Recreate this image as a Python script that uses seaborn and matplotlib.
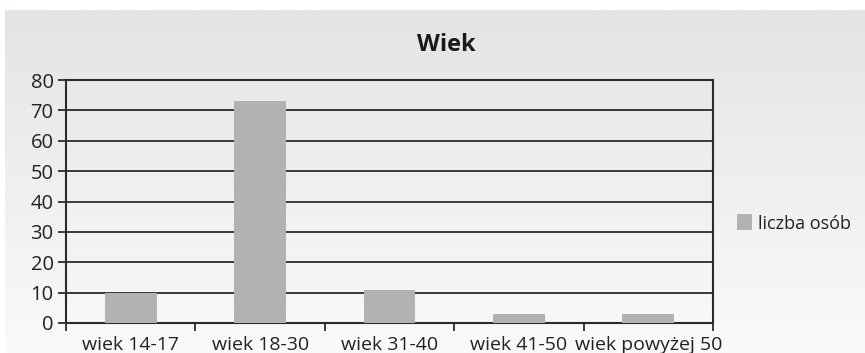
import numpy as np
import matplotlib
matplotlib.use("Agg")
import matplotlib.pyplot as plt
import seaborn as sns
import pandas as pd

categories = ["wiek 14-17", "wiek 18-30", "wiek 31-40", "wiek 41-50", "wiek powyżej 50"]
counts = [10, 73, 11, 3, 3]
series_name = "liczba osób"
title = "Wiek"

sns.set_theme(style="white")
plt.rcParams["font.family"] = ["Open Sans", "DejaVu Sans"]

df = pd.DataFrame({"kategoria": categories, "liczba": counts})

fig = plt.figure(figsize=(8.65, 3.53), dpi=100)
fig.patch.set_facecolor("white")

# soft vertical gradient behind the chart
bg = fig.add_axes([5 / 865, 0, 1 - 5 / 865, 343 / 353], zorder=0)
grad = np.linspace(0, 1, 256).reshape(-1, 1)
cmap = matplotlib.colors.LinearSegmentedColormap.from_list("bg", ["#e3e4e6", "#fafafa"])
bg.imshow(grad, aspect="auto", cmap=cmap, extent=[0, 1, 0, 1], origin="upper")
bg.set_axis_off()

ax = fig.add_axes([66 / 865, 30 / 353, (713 - 66) / 865, (323 - 80) / 353], zorder=1)
ax.set_facecolor("none")

sns.barplot(data=df, x="kategoria", y="liczba", color="#b1b2b4", width=0.4,
            saturation=1, label=series_name, ax=ax, zorder=3, linewidth=0)

ax.set_ylim(0, 80)
ax.set_xlim(-0.5, len(categories) - 0.5)
ax.set_yticks(range(0, 81, 10))
ax.yaxis.grid(True, color="#2b2b2b", linewidth=1.3)
ax.set_axisbelow(True)
ax.set_xlabel("")
ax.set_ylabel("")

for side in ["left", "bottom", "right", "top"]:
    ax.spines[side].set_visible(True)
    ax.spines[side].set_color("#2b2b2b")
    ax.spines[side].set_linewidth(1.5)

ax.tick_params(axis="y", which="major", left=True, length=6, width=1.3,
               color="#2b2b2b", labelsize=14.5, labelcolor="#222222", pad=3)
ax.tick_params(axis="x", which="major", bottom=False, labelsize=14,
               labelcolor="#222222", pad=3)
ax.set_xticks(np.arange(-0.5, len(categories)), minor=True)
ax.tick_params(axis="x", which="minor", bottom=True, length=6, width=1.3,
               color="#2b2b2b")

fig.text(446 / 865, 1 - 45 / 353, title, ha="center", va="center",
         fontsize=17, fontweight="bold", color="#1a1a1a")

leg = ax.legend(loc="center left", bbox_to_anchor=(1.009, 0.41), frameon=False,
                fontsize=13, handlelength=0.85, handleheight=1.0,
                handletextpad=0.3, borderaxespad=0.6)
for t in leg.get_texts():
    t.set_color("#222222")

fig.savefig("out.png", dpi=100)
